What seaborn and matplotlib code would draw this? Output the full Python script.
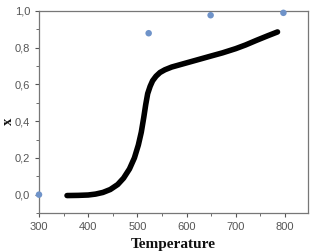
import numpy as np
import pandas as pd
import matplotlib
matplotlib.use("Agg")
import matplotlib.pyplot as plt
import seaborn as sns
from matplotlib.ticker import MultipleLocator, FuncFormatter

# Curve data
curve_temp = [357, 380, 400, 415, 430, 445, 460, 472, 484, 494, 502, 508, 513, 517, 521, 526, 531,
              538, 546, 556, 570, 590, 610, 630, 650, 673, 700, 720, 742, 765, 785]
curve_x = [-0.005, -0.004, -0.002, 0.003, 0.012, 0.028, 0.055, 0.09, 0.14, 0.20, 0.27, 0.34, 0.42,
           0.49, 0.55, 0.59, 0.62, 0.645, 0.665, 0.68, 0.695, 0.71, 0.725, 0.74, 0.755, 0.772,
           0.795, 0.815, 0.84, 0.865, 0.886]

# Scatter points
pt_temp = [300, 523, 649, 797]
pt_x = [0.0, 0.879, 0.977, 0.99]

sns.set_style("white")
fig = plt.figure(figsize=(3.12, 2.52), dpi=100)
ax = fig.add_axes([39/312, 1-213/252, (308-39)/312, (213-11)/252])

df_curve = pd.DataFrame({"Temperature": curve_temp, "x": curve_x})
df_pts = pd.DataFrame({"Temperature": pt_temp, "x": pt_x})

sns.lineplot(data=df_curve, x="Temperature", y="x", ax=ax, color="black", linewidth=4.0, sort=True)
for ln in ax.get_lines():
    ln.set_solid_capstyle("round")
    ln.set_solid_joinstyle("round")
sns.scatterplot(data=df_pts, x="Temperature", y="x", ax=ax, color="#6f93c9", s=22, edgecolor="none", zorder=5, clip_on=False)

ax.set_xlim(300, 847)
ax.set_ylim(-0.1, 1.0)
ax.xaxis.set_major_locator(MultipleLocator(100))
ax.xaxis.set_minor_locator(MultipleLocator(50))
ax.yaxis.set_major_locator(MultipleLocator(0.2))
ax.yaxis.set_minor_locator(MultipleLocator(0.1))
ax.yaxis.set_major_formatter(FuncFormatter(lambda v, p: f"{v:.1f}".replace(".", ",")))

for s in ax.spines.values():
    s.set_color("#777777")
    s.set_linewidth(0.9)

ax.tick_params(axis="both", which="both", direction="out", bottom=True, left=True, top=False, right=False,
               colors="#555555", labelcolor="#555555", labelsize=8)
ax.tick_params(which="major", length=3)
ax.tick_params(which="minor", length=2)
for lab in ax.get_xticklabels() + ax.get_yticklabels():
    lab.set_family("Liberation Sans")

ax.set_xlabel("Temperature", fontfamily="Liberation Serif", fontweight="bold", fontsize=11, color="#111111", labelpad=4)
ax.set_ylabel("x", fontfamily="Liberation Serif", fontweight="bold", fontsize=10.5, color="#111111")
ax.yaxis.set_label_coords(-0.088, 0.455)

fig.savefig("out.png", dpi=100)
